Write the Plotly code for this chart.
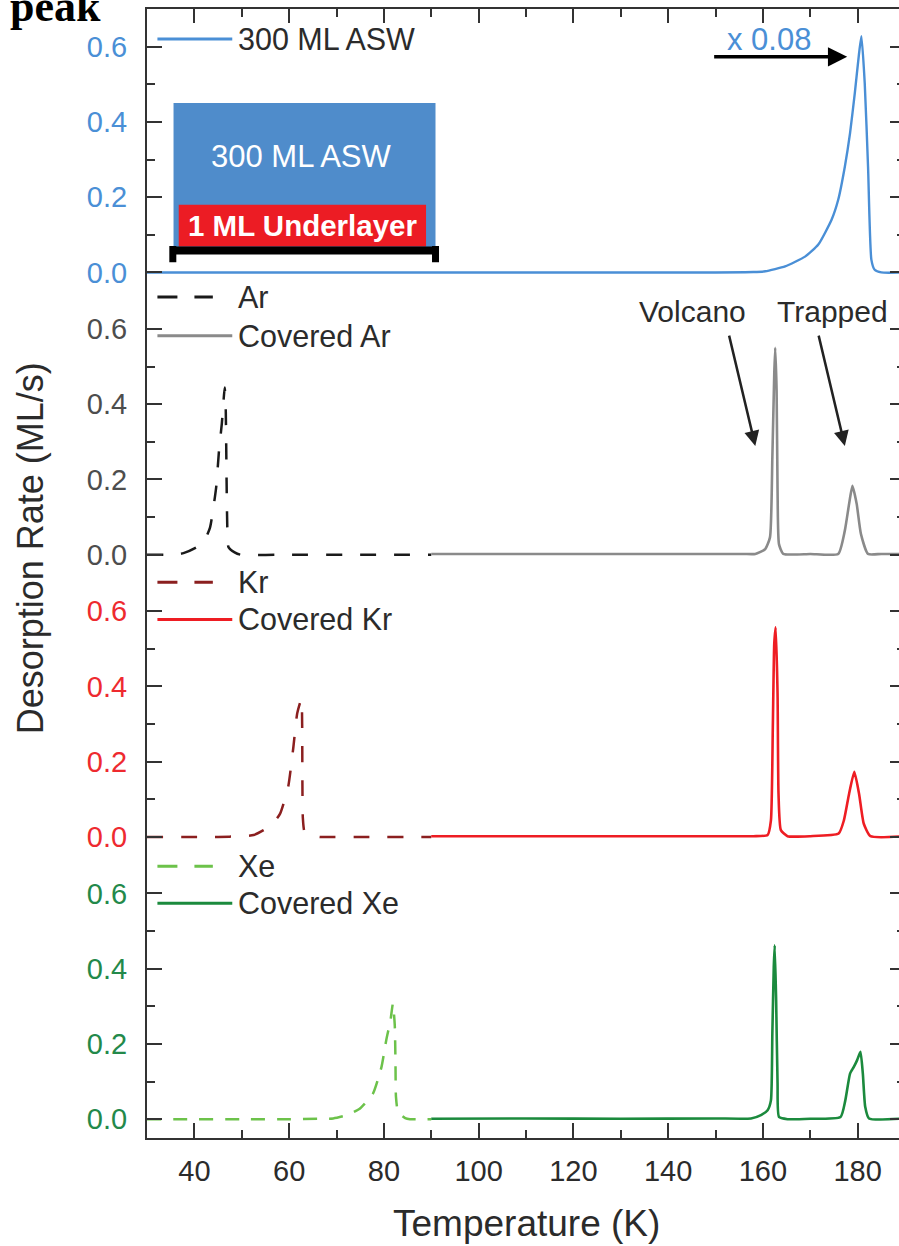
import plotly.graph_objects as go
from plotly.subplots import make_subplots

# ---------------- data ----------------
ASW_T = [30, 100, 150, 158, 160.5, 164.7, 168.9, 171.7, 174.5, 175.9, 177.3, 178.4, 179.4, 180.3, 180.8,
         181.5, 182.2, 182.9, 183.6, 185, 190]
ASW_R = [0, 0, 0, 0.001, 0.003, 0.016, 0.042, 0.074, 0.14, 0.193, 0.281, 0.37, 0.476, 0.582, 0.628,
         0.503, 0.281, 0.034, 0.007, 0, 0]

AR_T = [30, 36, 37.7, 40.5, 42.2, 43.3, 44.6, 45.2, 45.8, 46.4, 46.6, 46.8, 46.95, 47.2, 48.5, 49.7, 60, 75, 90]
AR_R = [0, 0, 0.004, 0.02, 0.04, 0.072, 0.179, 0.277, 0.349, 0.444, 0.40, 0.196, 0.072, 0.02, 0.006, 0, 0, 0, 0]

CAR_T = [90, 120, 150, 156, 158.4, 160.5, 161.5, 162.0, 162.4, 162.6, 162.9, 163.1, 163.4, 164.3, 170,
         175.9, 177.3, 178.2, 178.9, 179.8, 180.7, 182.2, 185, 190]
CAR_R = [0.002, 0.002, 0.002, 0.002, 0.002, 0.015, 0.046, 0.258, 0.48, 0.55, 0.435, 0.17, 0.028, 0.002, 0.002,
         0.002, 0.064, 0.135, 0.183, 0.135, 0.055, 0.002, 0.002, 0.002]

KR_T = [30, 45, 50, 52.5, 54.6, 56.5, 58.1, 59.8, 60.9, 61.7, 62.6, 62.75, 62.8, 62.9, 63.3, 65.5, 66.5, 75, 90]
KR_R = [0, 0, 0.002, 0.005, 0.018, 0.035, 0.062, 0.133, 0.239, 0.328, 0.367, 0.30, 0.15, 0.05, 0.012, 0.002, 0, 0, 0]

CKR_T = [90, 120, 150, 158, 161.0, 161.7, 162.1, 162.4, 162.7, 163.1, 163.3, 163.8, 165.2, 170,
         176.0, 177.1, 178.2, 179.3, 180.3, 181.3, 182.7, 190]
CKR_R = [0.002, 0.002, 0.002, 0.002, 0.005, 0.044, 0.292, 0.513, 0.557, 0.38, 0.115, 0.018, 0.002, 0.002,
         0.009, 0.044, 0.115, 0.173, 0.115, 0.035, 0.002, 0.002]

XE_T = [30, 50, 60, 66, 69.3, 72, 74.9, 77.7, 79.5, 80.5, 81.4, 81.9, 82.3, 82.45, 82.55, 83.0, 84.5, 85.5, 90]
XE_R = [0, 0, 0, 0.001, 0.002, 0.01, 0.028, 0.068, 0.139, 0.21, 0.263, 0.307, 0.25, 0.15, 0.06, 0.018, 0.003, 0, 0]

CXE_T = [90, 110, 130, 150, 157.5, 159.6, 161.0, 161.7, 162.0, 162.3, 162.5, 162.8, 163.1, 163.4, 165.2, 170,
         176.4, 177.4, 178.4, 179.2, 179.9, 180.6, 181.1, 181.6, 182.4, 190]
CXE_R = [0.001, 0.002, 0.001, 0.002, 0.002, 0.011, 0.024, 0.05, 0.227, 0.404, 0.462, 0.316, 0.095, 0.006, 0.0, 0.001,
         0.006, 0.05, 0.121, 0.139, 0.157, 0.179, 0.121, 0.033, 0.002, 0.002]

X_RANGE = [30, 190]
Y_RANGE = [-0.05, 0.7]

LEGEND_NAMES = [["300 ML ASW"], ["Ar", "Covered Ar"], ["Kr", "Covered Kr"], ["Xe", "Covered Xe"]]

# ---------------- styles ----------------
FONT = "Liberation Sans, Arial, sans-serif"
AX = "#333333"
TXT = "#2b2b2b"
C_ASW = "#4a8fd6"
C_AR, C_CAR = "#1a1a1a", "#8a8a8a"
C_KR, C_CKR = "#8b1f1f", "#ee1d23"
C_XE, C_CXE = "#6cc24a", "#1b8a3d"
TICK_COLORS = ["#4a8fd6", "#4d4d4d", "#ee2a2f", "#23894a"]
SMOOTH = dict(shape="spline", smoothing=0.5)

fig = make_subplots(rows=4, cols=1, shared_xaxes=True, vertical_spacing=0)

fig.add_trace(go.Scatter(x=ASW_T, y=ASW_R, mode="lines", name="300 ML ASW",
                         line=dict(color=C_ASW, width=2.4, **SMOOTH), showlegend=False), row=1, col=1)
fig.add_trace(go.Scatter(x=AR_T, y=AR_R, mode="lines", name="Ar",
                         line=dict(color=C_AR, width=2.5, dash="16px,18px", **SMOOTH), showlegend=False), row=2, col=1)
fig.add_trace(go.Scatter(x=CAR_T, y=CAR_R, mode="lines", name="Covered Ar",
                         line=dict(color=C_CAR, width=2.6, **SMOOTH), showlegend=False), row=2, col=1)
fig.add_trace(go.Scatter(x=KR_T, y=KR_R, mode="lines", name="Kr",
                         line=dict(color=C_KR, width=2.5, dash="16px,18px", **SMOOTH), showlegend=False), row=3, col=1)
fig.add_trace(go.Scatter(x=CKR_T, y=CKR_R, mode="lines", name="Covered Kr",
                         line=dict(color=C_CKR, width=2.6, **SMOOTH), showlegend=False), row=3, col=1)
fig.add_trace(go.Scatter(x=XE_T, y=XE_R, mode="lines", name="Xe",
                         line=dict(color=C_XE, width=2.5, dash="14px,12px", **SMOOTH), showlegend=False), row=4, col=1)
fig.add_trace(go.Scatter(x=CXE_T, y=CXE_R, mode="lines", name="Covered Xe",
                         line=dict(color=C_CXE, width=2.6, **SMOOTH), showlegend=False), row=4, col=1)

for i in range(1, 5):
    fig.update_yaxes(row=i, col=1, range=Y_RANGE, tick0=0, dtick=0.2, tickformat=".1f",
                     showline=True, linecolor=AX, linewidth=2, mirror="ticks",
                     ticks="inside", ticklen=15, tickwidth=2, tickcolor=AX,
                     minor=dict(ticks="inside", ticklen=8, tickwidth=2, tickcolor=AX, dtick=0.1, tick0=0),
                     showgrid=False, zeroline=False,
                     tickfont=dict(family=FONT, size=29, color=TICK_COLORS[i - 1]),
                     ticklabelstandoff=12)
    common_x = dict(range=X_RANGE, showgrid=False, zeroline=False)
    if i == 4:
        fig.update_xaxes(row=i, col=1, **common_x, showline=True, linecolor=AX, linewidth=2,
                         ticks="inside", ticklen=15, tickwidth=2, tickcolor=AX, tick0=0, dtick=20,
                         minor=dict(ticks="inside", ticklen=8, tickwidth=2, tickcolor=AX, dtick=10, tick0=0),
                         showticklabels=True, tickfont=dict(family=FONT, size=29, color=TXT),
                         ticklabelstandoff=6)
    elif i == 1:
        fig.update_xaxes(row=i, col=1, **common_x, side="top", showline=True, linecolor=AX, linewidth=2,
                         ticks="inside", ticklen=14, tickwidth=2, tickcolor=AX, tick0=0, dtick=20,
                         minor=dict(ticks="inside", ticklen=8, tickwidth=2, tickcolor=AX, dtick=10, tick0=0),
                         showticklabels=False)
    else:
        fig.update_xaxes(row=i, col=1, **common_x, showline=False, ticks="", showticklabels=False)

shapes = []
annots = []

# ---------- schematic in top panel ----------
shapes.append(dict(type="rect", xref="x", yref="y", x0=35.6, x1=90.9, y0=0.062, y1=0.45,
                   fillcolor="#4f8ccb", line=dict(width=0), layer="above"))
shapes.append(dict(type="rect", xref="x", yref="y", x0=36.7, x1=88.9, y0=0.069, y1=0.18,
                   fillcolor="#ec1c24", line=dict(width=0), layer="above"))
shapes.append(dict(type="line", xref="x", yref="y", x0=35.2, x1=91.3, y0=0.058, y1=0.058,
                   line=dict(color="black", width=8), layer="above"))
for xc in (35.45, 90.9):
    shapes.append(dict(type="line", xref="x", yref="y", x0=xc, x1=xc, y0=0.07, y1=0.027,
                       line=dict(color="black", width=7), layer="above"))
annots.append(dict(x=62.7, y=0.308, xref="x", yref="y", text="300 ML ASW", showarrow=False,
                   font=dict(family=FONT, size=31, color="white")))
annots.append(dict(x=63.0, y=0.125, xref="x", yref="y", text="<b>1 ML Underlayer</b>", showarrow=False,
                   font=dict(family=FONT, size=29.5, color="white")))

# ---------- x 0.08 arrow ----------
annots.append(dict(x=161.2, y=0.618, xref="x", yref="y", text="x 0.08", showarrow=False,
                   font=dict(family=FONT, size=31, color=C_ASW)))
annots.append(dict(x=177.8, y=0.573, xref="x", yref="y", ax=149.4, ay=0.573, axref="x", ayref="y",
                   text="", showarrow=True, arrowhead=2, arrowsize=1.1, arrowwidth=3.5, arrowcolor="black"))

# ---------- Volcano / Trapped ----------
annots.append(dict(x=145.2, y=0.645, xref="x", yref="y2", text="Volcano", showarrow=False,
                   font=dict(family=FONT, size=30, color=TXT)))
annots.append(dict(x=174.7, y=0.645, xref="x", yref="y2", text="Trapped", showarrow=False,
                   font=dict(family=FONT, size=30, color=TXT)))
annots.append(dict(x=158.4, y=0.289, xref="x", yref="y2", ax=152.8, ay=0.586, axref="x", ayref="y2",
                   text="", showarrow=True, arrowhead=2, arrowsize=1.2, arrowwidth=2.5, arrowcolor="#222"))
annots.append(dict(x=177.3, y=0.289, xref="x", yref="y2", ax=171.7, ay=0.586, axref="x", ayref="y2",
                   text="", showarrow=True, arrowhead=2, arrowsize=1.2, arrowwidth=2.5, arrowcolor="#222"))

# ---------- manual legends ----------
legend_rows = [
    ("y", [(LEGEND_NAMES[0][0], C_ASW, "solid", 0.620)]),
    ("y2", [(LEGEND_NAMES[1][0], C_AR, "20px,17px", 0.685), (LEGEND_NAMES[1][1], C_CAR, "solid", 0.582)]),
    ("y3", [(LEGEND_NAMES[2][0], C_KR, "20px,17px", 0.677), (LEGEND_NAMES[2][1], C_CKR, "solid", 0.578)]),
    ("y4", [(LEGEND_NAMES[3][0], C_XE, "20px,17px", 0.672), (LEGEND_NAMES[3][1], C_CXE, "solid", 0.574)]),
]
for yref, items in legend_rows:
    for name, color, dash, yv in items:
        x1 = 48.0 if dash == "solid" else 43.9
        shapes.append(dict(type="line", xref="x", yref=yref, x0=32.2, x1=x1, y0=yv, y1=yv,
                           line=dict(color=color, width=3, dash=dash)))
        annots.append(dict(x=48.8, y=yv, xref="x", yref=yref, text=name, showarrow=False,
                           xanchor="left", yanchor="middle",
                           font=dict(family=FONT, size=30.5, color=TXT)))

# ---------- axis titles & corner text ----------
annots.append(dict(x=0.5, y=-0.0755, xref="paper", yref="paper", text="Temperature (K)", showarrow=False,
                   xanchor="center", yanchor="middle", font=dict(family=FONT, size=37, color=TXT)))
annots.append(dict(x=-0.1533, y=0.5221, xref="paper", yref="paper", text="Desorption Rate (ML/s)",
                   showarrow=False, textangle=-90, xanchor="center", yanchor="middle",
                   font=dict(family=FONT, size=36, color=TXT)))
annots.append(dict(x=-0.1829, y=0.9790, xref="paper", yref="paper", text="<b>peak</b>", showarrow=False,
                   xanchor="left", yanchor="bottom",
                   font=dict(family="Liberation Serif, Times New Roman, serif", size=44, color="black")))

fig.update_layout(width=909, height=1246, autosize=False,
                  margin=dict(l=147, r=2, t=9, b=108),
                  paper_bgcolor="white", plot_bgcolor="white",
                  showlegend=False, shapes=shapes, annotations=annots)

fig.write_html("out.html",
               post_script="document.body.style.overflow='hidden';"
                           "document.documentElement.style.overflow='hidden';")
